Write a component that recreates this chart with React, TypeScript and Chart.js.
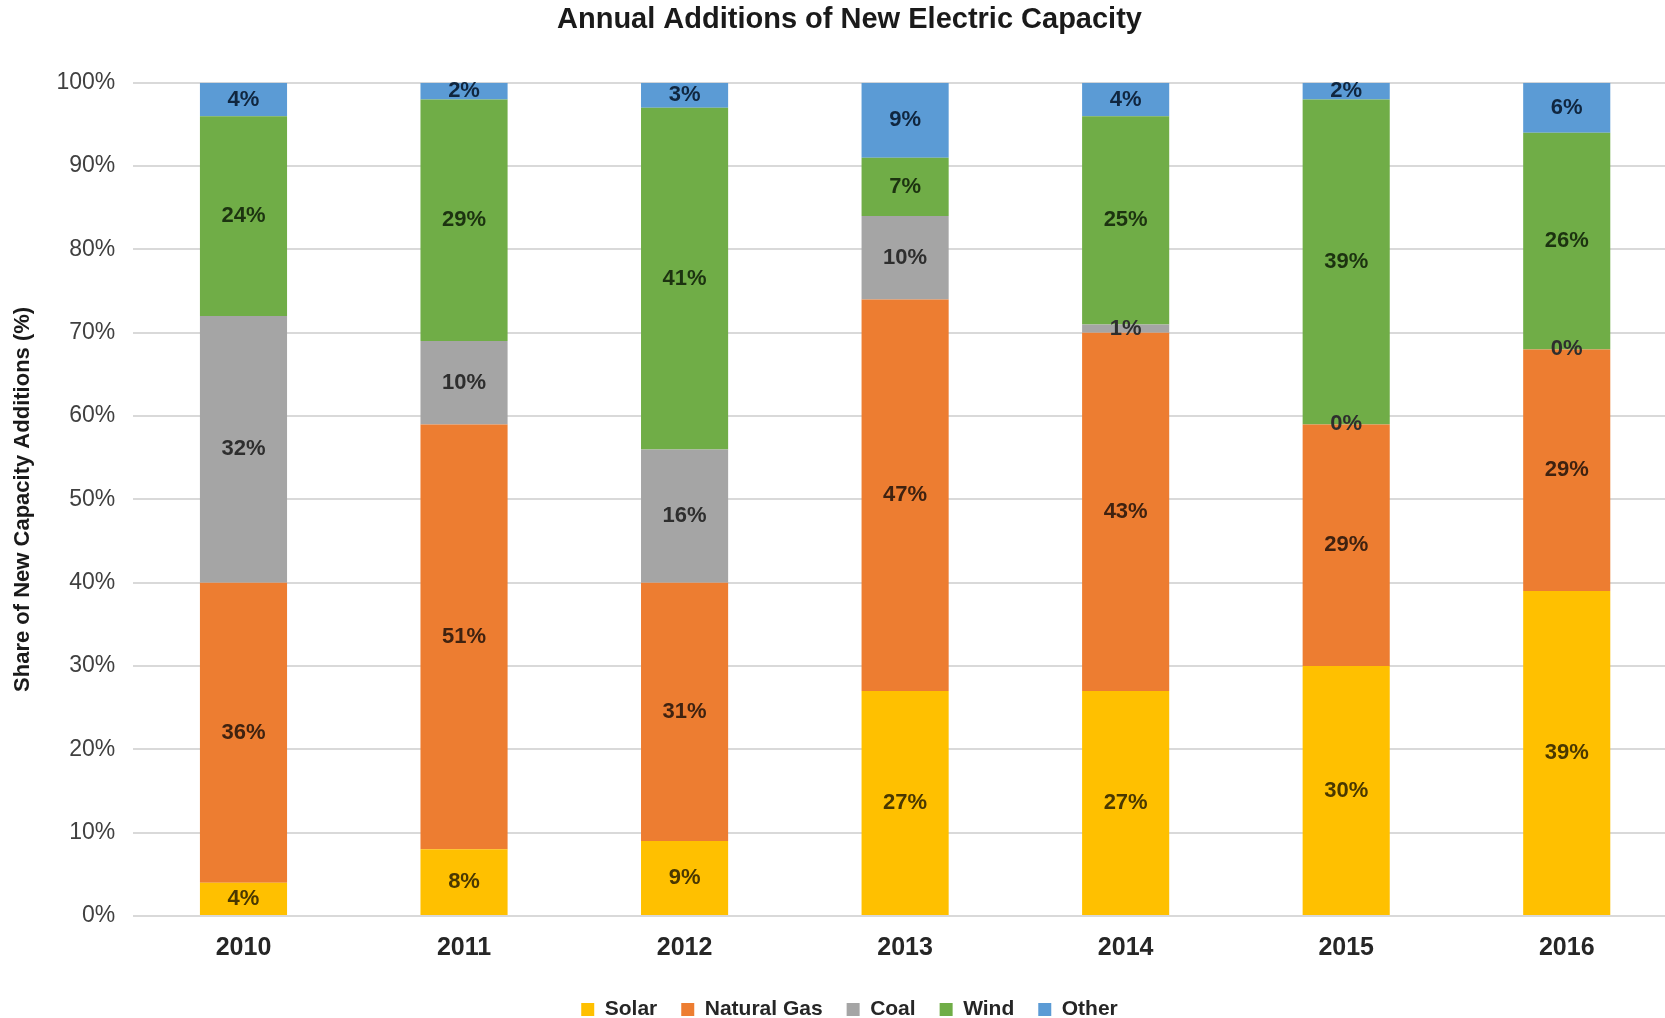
import React, { useEffect, useRef } from "react";
import { Chart, registerables } from "chart.js";

Chart.register(...registerables);

const years = ["2010", "2011", "2012", "2013", "2014", "2015", "2016"];
const solar = [4, 8, 9, 27, 27, 30, 39];
const naturalGas = [36, 51, 31, 47, 43, 29, 29];
const coal = [32, 10, 16, 10, 1, 0, 0];
const wind = [24, 29, 41, 7, 25, 39, 26];
const other = [4, 2, 3, 9, 4, 2, 6];
const yTicks = [0, 10, 20, 30, 40, 50, 60, 70, 80, 90, 100];

const FONT = "'Liberation Sans', Arial, sans-serif";

const seriesDefs = [
  { label: "Solar", data: solar, color: "#FFC000", text: "#4a3800" },
  { label: "Natural Gas", data: naturalGas, color: "#ED7D31", text: "#3f2210" },
  { label: "Coal", data: coal, color: "#A5A5A5", text: "#2e2e2e" },
  { label: "Wind", data: wind, color: "#70AD47", text: "#1c3310" },
  { label: "Other", data: other, color: "#5B9BD5", text: "#10263f" },
];

const segmentLabels = {
  id: "segmentLabels",
  afterDatasetsDraw(chart: any) {
    const ctx = chart.ctx;
    ctx.save();
    ctx.font = `bold 22px ${FONT}`;
    ctx.textAlign = "center";
    ctx.textBaseline = "middle";
    chart.data.datasets.forEach((ds: any, di: number) => {
      const meta = chart.getDatasetMeta(di);
      if (meta.hidden) return;
      meta.data.forEach((el: any, i: number) => {
        const v = ds.data[i];
        const cy = (el.y + el.base) / 2;
        ctx.fillStyle = seriesDefs[di].text;
        ctx.fillText(`${v}%`, el.x, cy);
      });
    });
    ctx.restore();
  },
};

export default function App() {
  const ref = useRef<HTMLCanvasElement | null>(null);
  useEffect(() => {
    if (!ref.current) return;
    const chart = new Chart(ref.current, {
      type: "bar",
      data: {
        labels: years,
        datasets: seriesDefs.map((s) => ({
          label: s.label,
          data: s.data,
          backgroundColor: s.color,
          borderWidth: 0,
          categoryPercentage: 1,
          barPercentage: 0.395,
        })),
      },
      options: {
        animation: false,
        responsive: true,
        maintainAspectRatio: false,
        layout: { padding: { top: 0, left: 22, right: 0, bottom: 0 } },
        plugins: {
          title: {
            display: true,
            text: "Annual Additions of New Electric Capacity",
            color: "#1a1a1a",
            font: { family: FONT, size: 29, weight: "bold" },
            padding: { top: 3, bottom: 45 },
          },
          legend: {
            position: "bottom",
            labels: {
              boxWidth: 13,
              boxHeight: 13,
              padding: 24,
              color: "#262626",
              font: { family: FONT, size: 21, weight: "bold" },
            },
          },
          tooltip: { enabled: false },
        },
        scales: {
          x: {
            stacked: true,
            grid: { display: false, drawTicks: false },
            border: { display: false },
            afterFit: (scale: any) => {
              scale.height -= 5;
            },
            ticks: {
              color: "#262626",
              padding: 17,
              font: { family: FONT, size: 25, weight: "bold" },
            },
          },
          y: {
            stacked: true,
            min: 0,
            max: 100,
            afterBuildTicks: (axis: any) => {
              axis.ticks = yTicks.map((v) => ({ value: v }));
            },
            grid: { color: "#D9D9D9", lineWidth: 2, drawTicks: false },
            border: { display: false },
            ticks: {
              color: "#404040",
              padding: 18,
              font: { family: FONT, size: 23 },
              callback: (v: any) => `${v}%`,
            },
            title: {
              display: true,
              text: "Share of New Capacity Additions (%)",
              color: "#1a1a1a",
              font: { family: FONT, size: 22, weight: "bold" },
              padding: { top: -12, bottom: 2 },
            },
          },
        },
      },
      plugins: [segmentLabels],
    });
    return () => chart.destroy();
  }, []);

  return (
    <div
      style={{
        position: "fixed",
        left: 0,
        top: 0,
        width: 1665,
        height: 1018,
        overflow: "hidden",
        background: "#fff",
      }}
    >
      <div style={{ position: "absolute", left: 0, top: 0, width: 1677, height: 1030 }}>
        <canvas ref={ref} />
      </div>
    </div>
  );
}
